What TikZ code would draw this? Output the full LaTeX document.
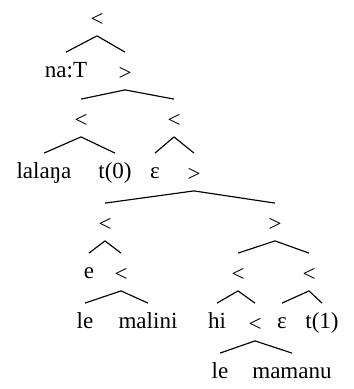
\documentclass[tikz,border=0pt]{standalone}
\usepackage{fontspec}
\setmainfont{Liberation Serif}
\newcommand\Lt{\raisebox{-1.2pt}{<}}
\newcommand\Gt{\raisebox{-1.2pt}{>}}
\begin{document}
\begin{tikzpicture}[x=.434pt,y=-.434pt,
    lab/.style={inner sep=0pt,text height=1.6ex,text depth=.4ex,minimum height=16pt},
    roof/.style={line width=.5pt}]
        \useasboundingbox(0,0)rectangle(354,389);
        % labels, row by row
        \node[lab](top)at(97,17){\Lt};
        \node[lab](nat)at(66,71){na:T};
        \node[lab](gt1)at(125,71){\Gt};
        \node[lab](lt1)at(81,118){\Lt};
        \node[lab](lt2)at(174,118){\Lt};
        \node[lab](lalana)at(44,172){lalaŋa};
        \node[lab](tzero)at(115,172){t(0)};
        \node[lab](eps1)at(155,172){ε};
        \node[lab](gt2)at(194,172){\Gt};
        \node[lab](lt3)at(105,222){\Lt};
        \node[lab](gt3)at(275,222){\Gt};
        \node[lab](e)at(89,272){e};
        \node[lab](lt4)at(121,272){\Lt};
        \node[lab](lt5)at(238,272){\Lt};
        \node[lab](lt6)at(309,272){\Lt};
        \node[lab](le1)at(85,322){le};
        \node[lab](malini)at(148,322){malini};
        \node[lab](hi)at(217,322){hi};
        \node[lab](lt7)at(255,322){\Lt};
        \node[lab](eps2)at(282,322){ε};
        \node[lab](tone)at(322,322){t(1)};
        \node[lab](le2)at(220,372){le};
        \node[lab](mamanu)at(292,372){mamanu};
        % branches
        \foreach \p/\c in {top/nat,top/gt1,gt1/lt1,gt1/lt2,lt1/lalana,lt1/tzero,
            lt2/eps1,lt2/gt2,gt2/lt3,gt2/gt3,lt3/e,lt3/lt4,gt3/lt5,gt3/lt6,
            lt4/le1,lt4/malini,lt5/hi,lt5/lt7,lt6/eps2,lt6/tone,lt7/le2,lt7/mamanu}
          \draw[roof](\p.south)--(\c.north);
      \end{tikzpicture}
\end{document}
